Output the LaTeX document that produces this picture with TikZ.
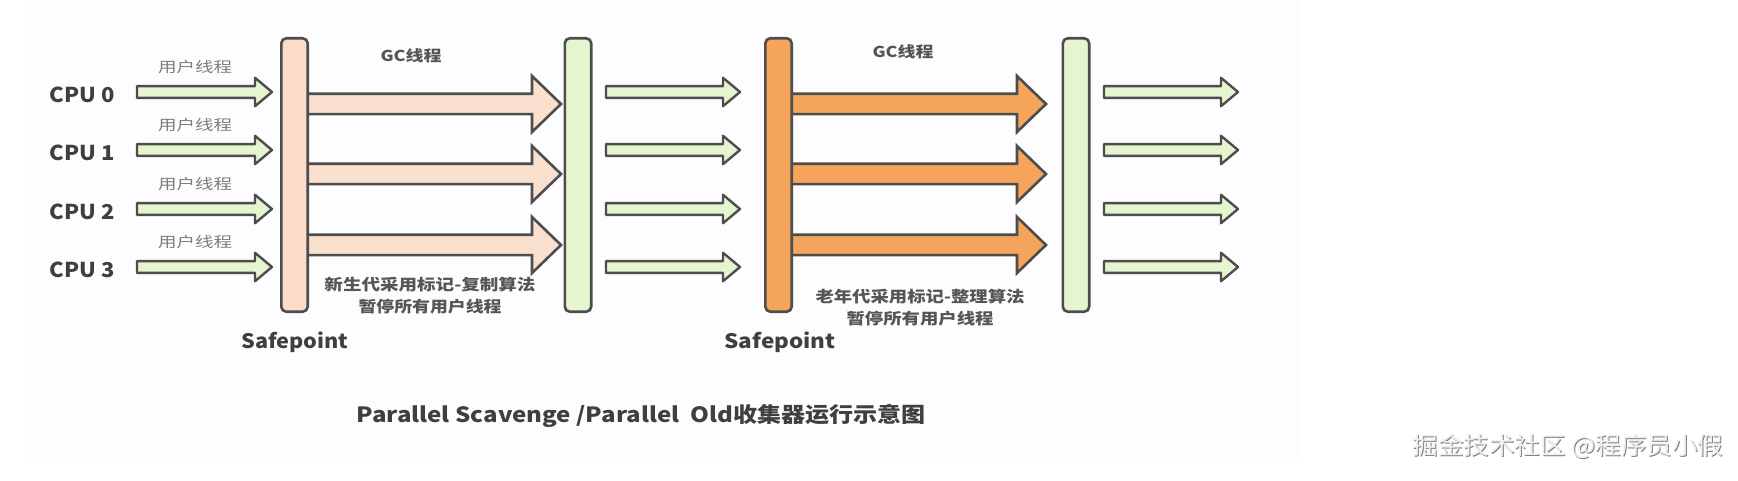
\documentclass[tikz,border=0pt]{standalone}
\usepackage{fontspec}
\usepackage{graphicx}
\setmainfont{Noto Sans CJK SC}
\usetikzlibrary{calc}
\definecolor{edge}{HTML}{4D4D4D}
\definecolor{peach}{HTML}{FADCC8}
\definecolor{peacharrow}{HTML}{F9DFCD}
\definecolor{lgreen}{HTML}{E5F5D0}
\definecolor{orangefill}{HTML}{F5A55B}
\definecolor{txt}{HTML}{3F3F3F}
\definecolor{txtmid}{HTML}{555555}
\definecolor{txtlight}{HTML}{7D7D7D}
\definecolor{bgtint}{HTML}{FDFCFE}
\newcommand\fsz[1]{\fontsize{#1}{#1}\selectfont}
\newcommand\fitx[2]{\resizebox{#1pt}{\height}{#2}}
% style, start, tip, body half, head half, head length
\newcommand\blockarrow[6]{%
  \draw[#1] ($(#2)+(0,-#4)$) -- ($(#3)+(-#6,-#4)$) -- ($(#3)+(-#6,-#5)$) -- (#3)
    -- ($(#3)+(-#6,#5)$) -- ($(#3)+(-#6,#4)$) -- ($(#2)+(0,#4)$) -- cycle;}
\tikzset{
  bar/.style={draw=edge, line width=2.6pt, rounded corners=5pt, minimum width=26.4pt,
    minimum height=273.4pt, inner sep=0pt},
  garrow/.style={draw=edge, line width=2.4pt, fill=lgreen, line join=round},
  parrow/.style={draw=edge, line width=2.6pt, fill=peacharrow, line join=miter},
  oarrow/.style={draw=edge, line width=2.6pt, fill=orangefill, line join=miter},
  cpulab/.style={text=txt, font=\fsz{20.5}\bfseries, inner sep=0pt},
  ulab/.style={text=txtlight, font=\fsz{14.5}, inner sep=0pt},
  gclab/.style={text=txtmid, font=\fsz{15}\bfseries, inner sep=0pt},
  desc/.style={text=txtmid, font=\fsz{15.5}\bfseries, inner sep=0pt},
  safe/.style={text=txt, font=\fsz{20}\bfseries, inner sep=0pt},
  captext/.style={text=txt, font=\fsz{21}\bfseries, inner sep=0pt},
  wm/.style={font=\fsz{24}, inner sep=0pt}
}
\begin{document}
\begin{tikzpicture}[x=1pt,y=-1pt]
\useasboundingbox (0,0) rectangle (1738,481);
\fill[white] (0,0) rectangle (1738,481);
\fill[bgtint] (30,0) rectangle (1300,463);

% user-thread arrows and labels
\foreach \y/\n in {92/0,150/1,209/2,267/3} {
  \node[cpulab] (cpu\n) at (82.5,\y+3) {\fitx{65}{CPU \n}};
  \node[ulab] (ul\n) at (195,\y-25) {\fitx{74}{用户线程}};
  \coordinate (a\n s) at (137,\y);
  \coordinate (a\n t) at (272,\y);
  \blockarrow{garrow}{a\n s}{a\n t}{5.9}{14.2}{17}
  \coordinate (m\n s) at (606,\y);
  \coordinate (m\n t) at (740,\y);
  \blockarrow{garrow}{m\n s}{m\n t}{5.9}{14.2}{17}
  \coordinate (r\n s) at (1104,\y);
  \coordinate (r\n t) at (1238,\y);
  \blockarrow{garrow}{r\n s}{r\n t}{5.9}{14.2}{17}
}

% GC thread arrows
\foreach \y/\n in {104/0,174/1,245/2} {
  \coordinate (g\n s) at (300,\y);
  \coordinate (g\n t) at (561,\y);
  \blockarrow{parrow}{g\n s}{g\n t}{10.2}{28}{29}
  \coordinate (o\n s) at (785,\y);
  \coordinate (o\n t) at (1046,\y);
  \blockarrow{oarrow}{o\n s}{o\n t}{10.2}{28}{29}
}

% bars
\node[bar, fill=peach] (b1) at (294.5,175) {};
\node[bar, fill=lgreen] (b2) at (578,175) {};
\node[bar, fill=orangefill] (b3) at (778.5,175) {};
\node[bar, fill=lgreen] (b4) at (1076,175) {};

% labels
\node[gclab] (gc1) at (411,56) {\fitx{61}{GC线程}};
\node[gclab] (gc2) at (903,52) {\fitx{61}{GC线程}};
\node[desc] (d1a) at (430,285) {\fitx{211}{新生代采用标记-复制算法}};
\node[desc] (d1b) at (430,307) {\fitx{143}{暂停所有用户线程}};
\node[desc] (d2a) at (920,297) {\fitx{209}{老年代采用标记-整理算法}};
\node[desc] (d2b) at (920,319) {\fitx{147}{暂停所有用户线程}};
\node[safe] (sp1) at (295,342) {\fitx{107}{Safepoint}};
\node[safe] (sp2) at (780,342) {\fitx{111}{Safepoint}};
\node[captext] (caption) at (641,416) {\fitx{569}{Parallel Scavenge /Parallel\ \ Old收集器运行示意图}};

% watermark
\node[wm, text=black!50] (wmshadow) at (1569,447) {\fitx{311}{掘金技术社区 @程序员小假}};
\node[wm, text=white!94!black] (wmark) at (1568,446) {\fitx{311}{掘金技术社区 @程序员小假}};
\end{tikzpicture}
\end{document}
